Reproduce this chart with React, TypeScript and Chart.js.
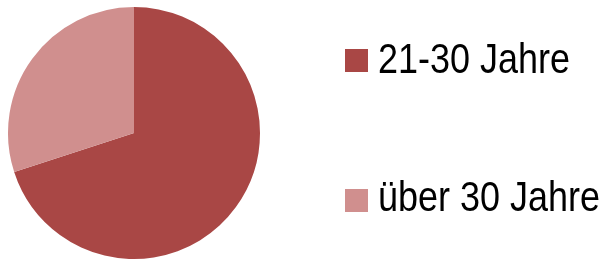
import React, { useEffect, useRef } from "react";
import { Chart, registerables } from "chart.js";

Chart.register(...registerables);

const categories = ["21-30 Jahre", "über 30 Jahre"];
const values = [70, 30];
const colors = ["#A94745", "#D08F8E"];

const legendPlugin = {
  id: "sideLegend",
  afterDraw(chart: any) {
    const ctx = chart.ctx;
    const rows = [
      { boxY: 49, baseline: 73 },
      { boxY: 189, baseline: 211 },
    ];
    ctx.save();
    ctx.font = "42px 'Liberation Sans', Arial, sans-serif";
    ctx.textBaseline = "alphabetic";
    ctx.textAlign = "left";
    const w0 = ctx.measureText(categories[0]).width;
    const sx = 192 / w0;
    categories.forEach((label, i) => {
      const r = rows[i];
      ctx.fillStyle = colors[i];
      ctx.fillRect(345, r.boxY, 23, 23);
      ctx.save();
      ctx.translate(378, r.baseline);
      ctx.scale(sx, 1);
      ctx.fillStyle = "#000000";
      ctx.fillText(label, 0, 0);
      ctx.restore();
    });
    ctx.restore();
  },
};

export default function App() {
  const ref = useRef<HTMLCanvasElement>(null);
  useEffect(() => {
    document.body.style.margin = "0";
    const chart = new Chart(ref.current!, {
      type: "pie",
      data: {
        labels: categories,
        datasets: [
          {
            data: values,
            backgroundColor: colors,
            borderWidth: 0,
            hoverOffset: 0,
          },
        ],
      },
      options: {
        animation: false,
        responsive: false,
        events: [],
        layout: { padding: { left: 8, top: 7, right: 341, bottom: 4 } },
        plugins: {
          legend: { display: false },
          tooltip: { enabled: false },
        },
      },
      plugins: [legendPlugin],
    });
    return () => chart.destroy();
  }, []);
  return (
    <div style={{ width: 601, height: 263 }}>
      <canvas ref={ref} width={601} height={263} style={{ display: "block" }} />
    </div>
  );
}
